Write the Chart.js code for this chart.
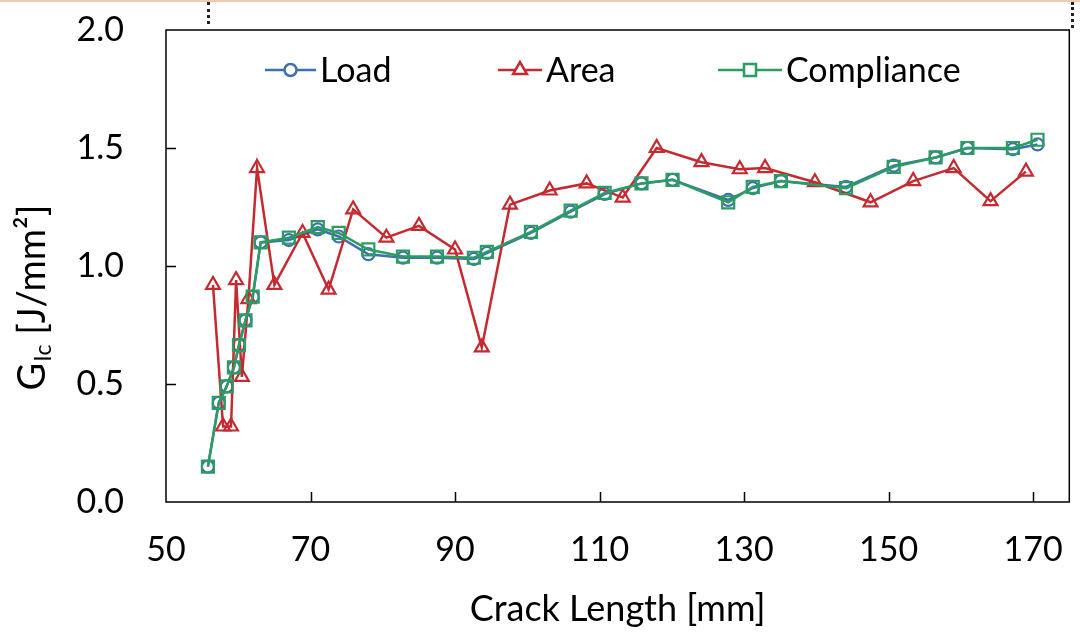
<!DOCTYPE html>
<html>
<head>
<meta charset="utf-8">
<script src="https://cdn.jsdelivr.net/npm/chart.js@4.4.1/dist/chart.umd.min.js"></script>
<style>
  body { margin: 0; background: #fff; }
  #wrap { position: relative; width: 1080px; height: 635px; }
  #myChart { display: block; }
  #topline { position: absolute; left: 0; top: 0; width: 1080px; height: 2px; background: #f3c9b4; }
  .dots { position: absolute; top: 2px; width: 0; border-left: 3px dotted #222; }
</style>
</head>
<body>
<div id="wrap">
  <canvas id="myChart" width="1080" height="635"></canvas>
  <div id="topline"></div>
  <div class="dots" style="left:207px;height:22px"></div>
  <div class="dots" style="left:1071px;height:26px"></div>
</div>
<script>
// crack length [mm] for load and compliance methods
var crackLen = [55.8, 57.3, 58.4, 59.4, 60.1, 61.0, 62.0, 63.1, 67.0, 71.0, 73.9, 78.0, 82.8, 87.5, 92.6,
    94.4, 100.5, 106.0, 110.7, 115.8, 120.1, 127.8, 131.2, 135.1, 144.1, 150.7, 156.5, 160.9, 167.2, 170.6];
var gLoad = [0.15, 0.42, 0.49, 0.57, 0.665, 0.77, 0.87, 1.10, 1.11, 1.155, 1.125, 1.05, 1.035, 1.035, 1.03,
    1.055, 1.14, 1.23, 1.305, 1.35, 1.365, 1.28, 1.33, 1.36, 1.335, 1.425, 1.46, 1.50, 1.495, 1.515];
var gComp = [0.15, 0.42, 0.49, 0.57, 0.665, 0.77, 0.87, 1.10, 1.12, 1.165, 1.14, 1.07, 1.04, 1.04, 1.035,
    1.06, 1.145, 1.235, 1.31, 1.35, 1.365, 1.27, 1.335, 1.36, 1.33, 1.42, 1.46, 1.50, 1.50, 1.535];
// area method
var crackArea = [56.5, 57.9, 59.0, 59.7, 60.5, 61.4, 62.6, 65.0, 68.9, 72.5, 75.9, 80.5, 85.0, 90.0, 93.7,
    97.6, 103.1, 108.2, 113.2, 117.9, 124.1, 129.4, 132.9, 139.8, 147.5, 153.4, 159.0, 164.1, 169.0];
var gArea = [0.92, 0.32, 0.32, 0.94, 0.53, 0.86, 1.415, 0.92, 1.14, 0.90, 1.24, 1.12, 1.17, 1.07, 0.655,
    1.26, 1.32, 1.35, 1.29, 1.50, 1.44, 1.41, 1.415, 1.355, 1.27, 1.36, 1.415, 1.275, 1.40];

var seriesNames = ['Load', 'Area', 'Compliance'];
var xTicks = [50, 70, 90, 110, 130, 150, 170];
var yTicks = [0, 0.5, 1.0, 1.5, 2.0];

var FONT = 'Lato';

function toXY(xs, ys) {
    return xs.map(function(x, i) { return { x: x, y: ys[i] }; });
}

// frame, inner tick marks, legend and y title (Excel style)
var excelBits = {
    id: 'excelBits',
    afterDraw: function(chart) {
        var ctx = chart.ctx, a = chart.chartArea;
        var sx = chart.scales.x, sy = chart.scales.y;
        ctx.save();
        ctx.strokeStyle = '#000';
        ctx.lineWidth = 1.5;
        ctx.strokeRect(a.left, a.top, a.right - a.left, a.bottom - a.top);
        ctx.beginPath();
        xTicks.slice(1).forEach(function(v) {
            var px = Math.round(sx.getPixelForValue(v)) + 0.5;
            ctx.moveTo(px, a.bottom);
            ctx.lineTo(px, a.bottom - 10);
        });
        yTicks.slice(1, -1).forEach(function(v) {
            var py = Math.round(sy.getPixelForValue(v)) + 0.5;
            ctx.moveTo(a.left, py);
            ctx.lineTo(a.left + 10, py);
        });
        ctx.stroke();

        // legend
        var legendPos = [[265, 320], [498, 546], [718, 786]];
        var ly = a.top + 40;
        ctx.font = '34px ' + FONT;
        ctx.textBaseline = 'middle';
        chart.data.datasets.forEach(function(ds, i) {
            var p = legendPos[i];
            ctx.strokeStyle = ds.borderColor;
            ctx.lineWidth = ds.borderWidth;
            ctx.beginPath();
            ctx.moveTo(p[0], ly);
            ctx.lineTo(p[1] - 4, ly);
            ctx.stroke();
            ctx.fillStyle = '#fff';
            Chart.helpers.drawPoint(ctx, {
                pointStyle: ds.pointStyle, rotation: 0, radius: ds.pointRadius,
                borderWidth: ds.pointBorderWidth
            }, (p[0] + p[1] - 4) / 2, ly);
            ctx.fillStyle = '#000';
            ctx.fillText(ds.label, p[1], ly + 1);
        });

        // y title with subscript
        ctx.translate(34, 298);
        ctx.rotate(-Math.PI / 2);
        ctx.fillStyle = '#000';
        ctx.textBaseline = 'alphabetic';
        ctx.font = '38px ' + FONT;
        var w1 = ctx.measureText('G').width;
        ctx.font = '23px ' + FONT;
        var w2 = ctx.measureText('Ic').width;
        ctx.font = '38px ' + FONT;
        var w3 = ctx.measureText(' [J/mm²]').width;
        var x0 = -(w1 + w2 + w3) / 2;
        ctx.fillText('G', x0, 11);
        ctx.font = '23px ' + FONT;
        ctx.fillText('Ic', x0 + w1 + 1, 17);
        ctx.font = '38px ' + FONT;
        ctx.fillText(' [J/mm²]', x0 + w1 + w2 + 1, 11);
        ctx.restore();
    }
};

function drawChart() {
    var ctx = document.getElementById('myChart').getContext('2d');
    var mk = function(label, data, color, style, r, order) {
        return {
            label: label, data: data, borderColor: color, backgroundColor: color,
            pointStyle: style, pointRadius: r, pointHoverRadius: r, pointBorderWidth: 2.2,
            pointBackgroundColor: 'rgba(255,255,255,0)', pointBorderColor: color,
            borderWidth: 2.5, tension: 0, order: order
        };
    };
    new Chart(ctx, {
        type: 'line',
        data: {
            datasets: [
                mk(seriesNames[0], toXY(crackLen, gLoad), '#3f6fae', 'circle', 6, 2),
                mk(seriesNames[1], toXY(crackArea, gArea), '#c42a30', 'triangle', 8, 1),
                mk(seriesNames[2], toXY(crackLen, gComp), '#2b9d62', 'rect', 8.5, 0)
            ]
        },
        options: {
            responsive: false,
            animation: false,
            layout: { padding: { top: 30, right: 8, left: 0, bottom: 0 } },
            plugins: { legend: { display: false }, tooltip: { enabled: false } },
            scales: {
                x: {
                    type: 'linear', min: 50, max: 175,
                    afterBuildTicks: function(s) { s.ticks = xTicks.map(function(v) { return { value: v }; }); },
                    afterFit: function(s) { s.height = 133; s.paddingLeft = 0; s.paddingRight = 0; },
                    grid: { display: false },
                    border: { display: false },
                    ticks: { color: '#000', font: { family: FONT, size: 34 }, padding: 20, maxRotation: 0 },
                    title: { display: true, text: 'Crack Length [mm]', color: '#000',
                             font: { family: FONT, size: 36 }, padding: { top: 0, bottom: 4 } }
                },
                y: {
                    min: 0, max: 2,
                    afterBuildTicks: function(s) { s.ticks = yTicks.map(function(v) { return { value: v }; }); },
                    afterFit: function(s) { s.width = 166; s.paddingTop = 0; s.paddingBottom = 0; },
                    grid: { display: false },
                    border: { display: false },
                    ticks: { color: '#000', font: { family: FONT, size: 34 }, padding: 34,
                             callback: function(v) { return v.toFixed(1); } }
                }
            }
        },
        plugins: [excelBits]
    });
}

window.onload = function() {
    drawChart();
};
</script>
</body>
</html>
